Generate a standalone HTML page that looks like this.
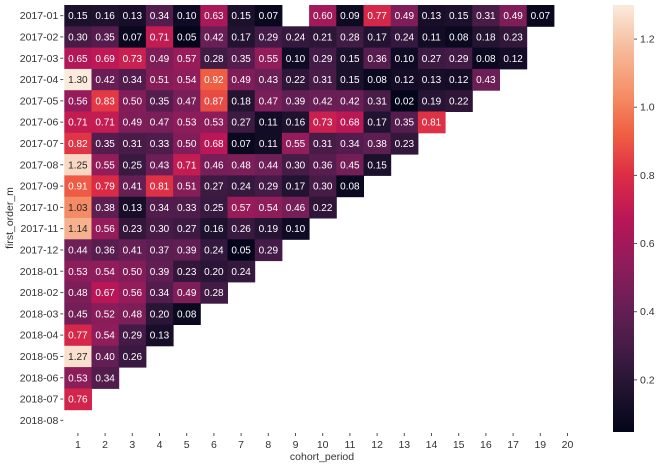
<!DOCTYPE html>
<html><head><meta charset="utf-8"><style>
body{margin:0;background:#fff;}
svg{display:block;font-family:"Liberation Sans","Noto Sans CJK KR",sans-serif;}
</style></head><body>
<svg id="chart" width="660" height="468" viewBox="0 0 660 468"></svg>
<script>
const rowLabels=["2017-01","2017-02","2017-03","2017-04","2017-05","2017-06","2017-07","2017-08","2017-09","2017-10","2017-11","2017-12","2018-01","2018-02","2018-03","2018-04","2018-05","2018-06","2018-07","2018-08"];
const colLabels=["1","2","3","4","5","6","7","8","9","10","11","12","13","14","15","16","17","19","20"];
const values=[
[0.15,0.16,0.13,0.34,0.10,0.63,0.15,0.07,null,0.60,0.09,0.77,0.49,0.13,0.15,0.31,0.49,0.07],
[0.30,0.35,0.07,0.71,0.05,0.42,0.17,0.29,0.24,0.21,0.28,0.17,0.24,0.11,0.08,0.18,0.23],
[0.65,0.69,0.73,0.49,0.57,0.28,0.35,0.55,0.10,0.29,0.15,0.36,0.10,0.27,0.29,0.08,0.12],
[1.30,0.42,0.34,0.51,0.54,0.92,0.49,0.43,0.22,0.31,0.15,0.08,0.12,0.13,0.12,0.43],
[0.56,0.83,0.50,0.35,0.47,0.87,0.18,0.47,0.39,0.42,0.42,0.31,0.02,0.19,0.22],
[0.71,0.71,0.49,0.47,0.53,0.53,0.27,0.11,0.16,0.73,0.68,0.17,0.35,0.81],
[0.82,0.35,0.31,0.33,0.50,0.68,0.07,0.11,0.55,0.31,0.34,0.38,0.23],
[1.25,0.55,0.25,0.43,0.71,0.46,0.48,0.44,0.30,0.36,0.45,0.15],
[0.91,0.79,0.41,0.81,0.51,0.27,0.24,0.29,0.17,0.30,0.08],
[1.03,0.38,0.13,0.34,0.33,0.25,0.57,0.54,0.46,0.22],
[1.14,0.56,0.23,0.30,0.27,0.16,0.26,0.19,0.10],
[0.44,0.36,0.41,0.37,0.39,0.24,0.05,0.29],
[0.53,0.54,0.50,0.39,0.23,0.20,0.24],
[0.48,0.67,0.56,0.34,0.49,0.28],
[0.45,0.52,0.48,0.20,0.08],
[0.77,0.54,0.29,0.13],
[1.27,0.40,0.26],
[0.53,0.34],
[0.76],
[]
];
const cbTicks=[0.2,0.4,0.6,0.8,1.0,1.2];
const vmin=0.047, vmax=1.30;

const NS="http://www.w3.org/2000/svg";
const svg=document.getElementById('chart');
const L=64.3,T=5,CW=27.2,RH=21.3;
const stops=[[3,5,26],[34,19,49],[69,28,71],[106,31,86],[146,28,91],[185,22,87],[221,44,69],[240,96,67],[245,147,106],[246,188,156],[250,235,221]];
function cmap(v){let t=(v-vmin)/(vmax-vmin);t=Math.max(0,Math.min(1,t));const p=t*10,i=Math.min(9,Math.floor(p)),f=p-i;const a=stops[i],b=stops[i+1];return [0,1,2].map(k=>Math.round(a[k]+(b[k]-a[k])*f));}
function xPos(j){return L+j*CW;}
function yPos(i){return T+i*RH;}
function mk(tag,attrs){const e=document.createElementNS(NS,tag);for(const k in attrs)e.setAttribute(k,attrs[k]);svg.appendChild(e);return e;}

values.forEach((row,i)=>{
  row.forEach((v,j)=>{
    if(v===null)return;
    const c=cmap(v);
    const r=mk('rect',{x:xPos(j),y:yPos(i),width:CW+0.5,height:RH+0.5,fill:`rgb(${c})`});
    
    
    const lum=(0.2126*c[0]+0.7152*c[1]+0.0722*c[2])/255;
    const t=mk('text',{x:xPos(j)+CW/2,y:yPos(i)+RH/2+3.5,'text-anchor':'middle','font-size':'10',fill:lum>0.5?'#262626':'#fff'});
    t.textContent=v.toFixed(2);
    
    
  });
});
rowLabels.forEach((lab,i)=>{
  const y=yPos(i)+RH/2;
  mk('line',{x1:L-4,x2:L-1,y1:y,y2:y,stroke:'#555','stroke-width':1});
  const t=mk('text',{x:L-6,y:y+3.5,'text-anchor':'end','font-size':'10.5',fill:'#333'});
  t.textContent=lab;
  
  
});
colLabels.forEach((lab,j)=>{
  const x=xPos(j)+CW/2;
  mk('line',{x1:x,x2:x,y1:433,y2:436,stroke:'#555','stroke-width':1});
  const t=mk('text',{x:x,y:448,'text-anchor':'middle','font-size':'10.5',fill:'#333'});
  t.textContent=lab;
  
  
});
const xt=mk('text',{x:322,y:460,'text-anchor':'middle','font-size':'10.5',fill:'#333'});
xt.textContent='cohort_period';


const yt=mk('text',{x:0,y:0,'text-anchor':'middle','font-size':'10.5',fill:'#333',transform:'translate(13,218) rotate(-90)'});
yt.textContent='first_order_m';



// colorbar
const cbX=613,cbW=21,cbT=5,cbB=432;
const defs=mk('defs',{});
const g=document.createElementNS(NS,'linearGradient');
g.setAttribute('id','cbg');g.setAttribute('x1','0');g.setAttribute('y1','1');g.setAttribute('x2','0');g.setAttribute('y2','0');
defs.appendChild(g);
stops.forEach((s,k)=>{const st=document.createElementNS(NS,'stop');st.setAttribute('offset',k/10);st.setAttribute('stop-color',`rgb(${s})`);g.appendChild(st);});
const cb=mk('rect',{x:cbX,y:cbT,width:cbW,height:cbB-cbT,fill:'url(#cbg)'});


function cbY(v){return cbB-(v-vmin)/(vmax-vmin)*(cbB-cbT);}
cbTicks.forEach(v=>{
  const y=cbY(v);
  mk('line',{x1:cbX+cbW,x2:cbX+cbW+3,y1:y,y2:y,stroke:'#555','stroke-width':1});
  const t=mk('text',{x:cbX+cbW+6,y:y+3.5,'font-size':'10.5',fill:'#333'});
  t.textContent=v.toFixed(1);
  
  
});
</script>
</body></html>
